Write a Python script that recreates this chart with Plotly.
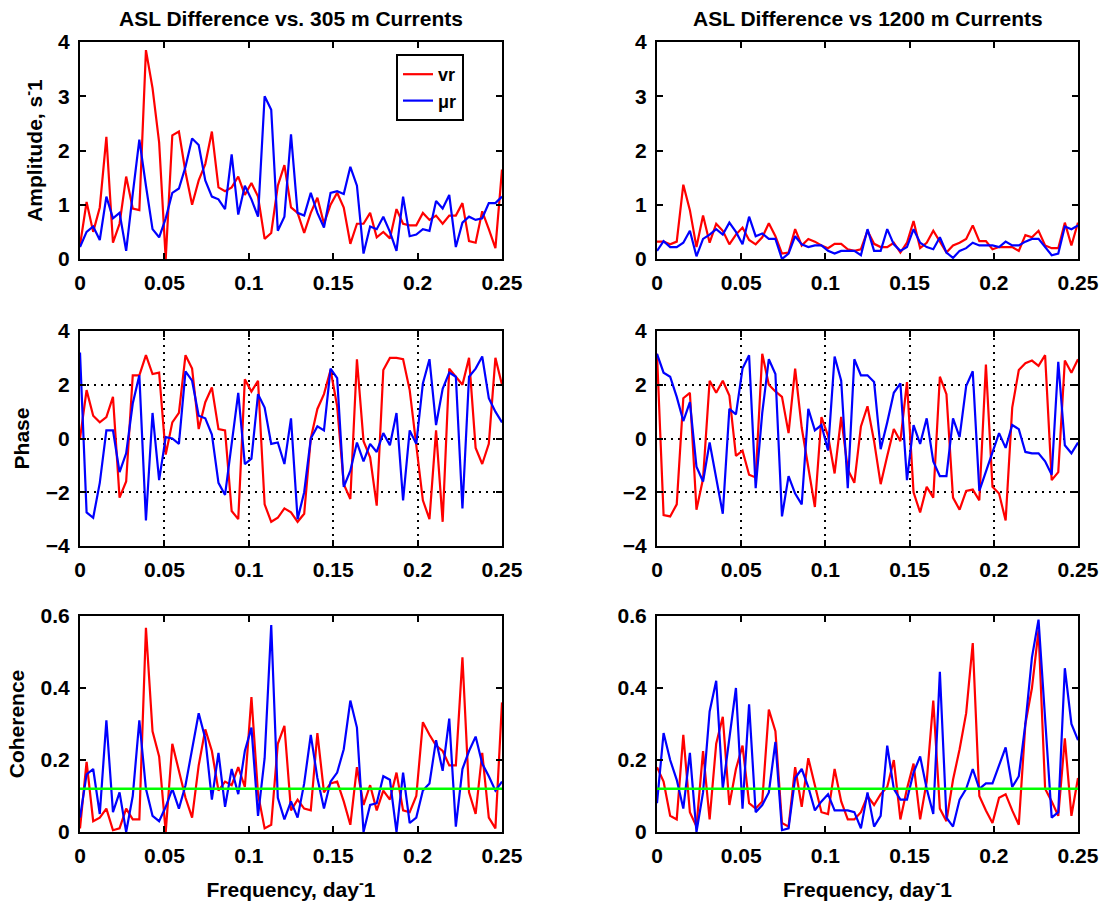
import numpy as np
import plotly.graph_objects as go

# ---------------- data ----------------
freq = np.arange(65) / 256.0  # day^-1

amp305_vr = [0.25,1.05,0.5,0.95,2.25,0.3,0.65,1.52,0.93,0.9,3.85,3.15,2.15,0.0,2.28,2.35,1.6,1.0,1.45,1.75,
             2.35,1.32,1.25,1.32,1.52,1.18,1.4,1.15,0.37,0.48,1.35,1.73,0.95,0.85,0.48,0.85,1.13,0.65,1.0,1.22,
             0.95,0.28,0.65,0.65,0.85,0.4,0.5,0.38,0.92,0.65,0.62,0.62,0.85,0.72,0.8,0.65,0.8,0.8,1.03,0.33,
             0.3,0.88,0.55,0.2,1.65]
amp305_ur = [0.22,0.5,0.6,0.35,1.15,0.75,0.85,0.15,1.2,2.2,1.35,0.55,0.4,0.75,1.22,1.3,1.7,2.22,2.1,1.45,
             1.15,1.1,0.92,1.93,0.82,1.35,1.1,0.78,3.0,2.75,0.52,0.78,2.3,0.85,0.8,1.22,0.85,0.58,1.22,1.25,
             1.2,1.7,1.35,0.1,0.6,0.55,0.78,0.5,0.15,1.15,0.42,0.45,0.55,0.52,1.07,0.93,1.18,0.22,0.67,0.78,
             0.72,0.75,1.03,1.03,1.15]
amp1200_vr = [0.32,0.32,0.27,0.32,1.37,0.9,0.22,0.8,0.3,0.65,0.52,0.27,0.45,0.58,0.35,0.27,0.4,0.66,0.42,0.1,
              0.12,0.55,0.25,0.37,0.32,0.25,0.2,0.28,0.28,0.18,0.15,0.18,0.52,0.28,0.22,0.22,0.3,0.12,0.3,0.7,
              0.2,0.3,0.52,0.32,0.12,0.25,0.3,0.37,0.62,0.33,0.33,0.18,0.22,0.22,0.22,0.15,0.44,0.4,0.52,0.25,
              0.2,0.2,0.67,0.25,0.67]
amp1200_ur = [0.15,0.33,0.22,0.22,0.3,0.52,0.05,0.37,0.45,0.55,0.45,0.67,0.5,0.27,0.78,0.42,0.47,0.37,0.37,0.0,
              0.1,0.42,0.27,0.22,0.25,0.25,0.15,0.1,0.15,0.15,0.15,0.07,0.55,0.15,0.15,0.55,0.27,0.15,0.22,0.55,
              0.3,0.22,0.18,0.4,0.12,0.02,0.15,0.2,0.3,0.25,0.25,0.25,0.22,0.32,0.25,0.25,0.32,0.37,0.37,0.22,
              0.07,0.1,0.6,0.55,0.62]

phase305_vr = [0,1.8,0.85,0.6,0.8,1.55,-2.2,-1.6,2.35,2.35,3.1,2.4,2.45,-0.6,0.6,0.95,3.1,2.6,0.35,1.35,
               1.9,0.35,0.3,-2.7,-3.0,2.2,1.75,2.15,-2.45,-3.1,-2.95,-2.6,-2.75,-3.1,-2.8,0.0,1.1,1.65,2.55,1.2,
               -1.7,-2.25,2.95,-0.1,-0.7,-2.5,2.55,3.0,3.0,2.95,1.8,-0.3,-2.3,-3.0,0.3,-3.1,2.6,2.3,2.0,3.0,
               -0.35,-0.95,-0.2,3.0,2.0]
phase305_ur = [3.2,-2.75,-2.95,-1.65,0.3,0.3,-1.25,-0.55,1.3,2.35,-3.05,0.95,-1.55,0.05,0.0,-0.2,2.5,2.15,0.85,0.75,
               0.15,-1.65,-2.1,-0.25,1.7,-0.95,-0.75,1.65,1.15,-0.2,-0.15,-0.95,0.75,-3.0,-2.0,0.0,0.45,0.3,2.6,2.25,
               -1.8,-1.2,-0.15,-0.85,-0.2,-0.5,0.2,-0.25,0.95,-2.3,0.3,-0.2,2.05,2.95,0.5,1.85,2.45,2.3,-2.6,2.3,
               2.6,3.05,1.5,1.0,0.6]
phase1200_vr = [3.15,-2.85,-2.9,-2.45,1.5,1.7,-2.65,-1.5,2.15,1.7,2.15,1.6,-0.65,-0.45,-1.35,-1.45,3.15,2.0,1.75,1.55,
                0.2,2.6,0.4,-1.0,-2.55,0.8,0.1,-1.3,0.8,-1.15,-1.65,0.45,1.2,-0.1,-1.7,-0.65,0.35,-0.1,2.1,-2.0,
                -2.75,-1.8,-2.2,2.3,1.65,-2.2,-2.65,-1.95,-1.9,-2.3,2.75,-1.8,-2.05,-3.05,1.15,2.55,2.8,2.9,2.7,3.1,
                -1.55,-1.25,2.9,2.45,2.95]
phase1200_ur = [3.15,2.45,2.3,1.55,0.65,1.35,-1.05,-1.6,-0.15,-1.5,-2.8,1.1,0.9,2.6,3.1,-1.85,0.95,2.95,2.4,-2.9,
                -1.4,-2.05,-2.45,1.1,0.3,0.5,-0.45,3.05,2.15,-1.85,2.95,2.35,2.35,2.1,-0.4,0.6,1.7,2.05,-1.55,0.5,
                -0.2,0.75,-0.85,-1.4,-1.4,0.75,0.05,1.95,2.5,-1.95,-1.25,-0.55,0.2,-0.35,0.5,0.35,-0.5,-0.55,-0.55,-0.85,
                -1.35,2.85,-0.25,-0.55,-0.15]

coh305_vr = [0.01,0.195,0.03,0.04,0.065,0.005,0.01,0.065,0.035,0.035,0.567,0.28,0.21,0.0,0.245,0.17,0.095,0.04,0.185,0.285,
             0.225,0.115,0.14,0.13,0.18,0.125,0.375,0.105,0.01,0.02,0.245,0.295,0.06,0.09,0.065,0.06,0.275,0.11,0.135,0.14,
             0.085,0.02,0.18,0.075,0.13,0.06,0.115,0.09,0.165,0.06,0.055,0.1,0.305,0.27,0.24,0.225,0.185,0.185,0.485,0.11,
             0.05,0.22,0.04,0.01,0.36]
coh305_ur = [0.04,0.16,0.175,0.05,0.31,0.055,0.11,0.0,0.1,0.31,0.12,0.045,0.03,0.07,0.12,0.065,0.13,0.225,0.33,0.26,
             0.09,0.22,0.07,0.175,0.105,0.225,0.29,0.045,0.205,0.575,0.095,0.035,0.085,0.04,0.135,0.27,0.15,0.065,0.14,0.165,
             0.23,0.365,0.29,0.0,0.075,0.08,0.155,0.145,0.0,0.165,0.025,0.04,0.115,0.135,0.255,0.17,0.315,0.015,0.175,0.225,
             0.265,0.19,0.155,0.115,0.14]
coh1200_vr = [0.18,0.14,0.045,0.035,0.27,0.055,0.015,0.225,0.035,0.245,0.32,0.075,0.175,0.24,0.08,0.065,0.085,0.34,0.28,0.025,
              0.015,0.18,0.07,0.205,0.13,0.055,0.05,0.175,0.085,0.035,0.035,0.055,0.1,0.075,0.105,0.125,0.2,0.035,0.12,0.19,
              0.035,0.14,0.365,0.065,0.03,0.145,0.23,0.33,0.525,0.1,0.06,0.025,0.095,0.105,0.06,0.02,0.3,0.4,0.56,0.12,
              0.085,0.045,0.26,0.045,0.15]
coh1200_ur = [0.08,0.275,0.2,0.145,0.065,0.22,0.0,0.11,0.335,0.42,0.12,0.26,0.4,0.065,0.355,0.055,0.075,0.11,0.25,0.005,
              0.01,0.15,0.175,0.125,0.06,0.085,0.105,0.06,0.06,0.06,0.055,0.01,0.11,0.015,0.045,0.24,0.12,0.09,0.09,0.165,
              0.21,0.12,0.05,0.445,0.04,0.015,0.09,0.12,0.175,0.12,0.135,0.135,0.185,0.235,0.125,0.155,0.3,0.485,0.59,0.3,
              0.04,0.055,0.455,0.3,0.255]

coh_sig = 0.12

x_ticks = [0, 0.05, 0.1, 0.15, 0.2, 0.25]
x_ticklabels = ["0", "0.05", "0.1", "0.15", "0.2", "0.25"]
amp_ticks = [0, 1, 2, 3, 4]
phase_ticks = [-4, -2, 0, 2, 4]
coh_ticks = [0, 0.2, 0.4, 0.6]
coh_ticklabels = ["0", "0.2", "0.4", "0.6"]

titles = ["ASL Difference vs. 305 m Currents", "ASL Difference vs 1200 m Currents"]

# ---------------- figure ----------------
W, H = 1105, 905
FONT = "Liberation Sans"
RED, BLUE, GREEN = "#ff0000", "#0000ff", "#00ff00"

def px_x(a, b):
    return [a / W, b / W]

def px_y(top, bottom):
    return [1 - bottom / H, 1 - top / H]

xdom = [px_x(80, 502), px_x(657, 1078)]
ydom = [px_y(42, 259), px_y(331, 546), px_y(616, 832)]

fig = go.Figure()

panels = [
    (0, 0, amp305_vr, amp305_ur, "amp"),
    (0, 1, amp1200_vr, amp1200_ur, "amp"),
    (1, 0, phase305_vr, phase305_ur, "phase"),
    (1, 1, phase1200_vr, phase1200_ur, "phase"),
    (2, 0, coh305_vr, coh305_ur, "coh"),
    (2, 1, coh1200_vr, coh1200_ur, "coh"),
]

TICKFONT = dict(family=FONT, size=21, color="black", weight="bold")
TITLEFONT = dict(family=FONT, size=21, color="black", weight="bold")

layout = {}
for i, (r, c, vr, ur, kind) in enumerate(panels):
    n = i + 1
    xa = "x" if n == 1 else f"x{n}"
    ya = "y" if n == 1 else f"y{n}"
    fig.add_trace(go.Scatter(x=freq, y=vr, mode="lines", line=dict(color=RED, width=2.2),
                             name="vr", showlegend=(n == 1), xaxis=xa, yaxis=ya))
    fig.add_trace(go.Scatter(x=freq, y=ur, mode="lines", line=dict(color=BLUE, width=2.2),
                             name="μr", showlegend=(n == 1), xaxis=xa, yaxis=ya))
    if kind == "coh":
        fig.add_trace(go.Scatter(x=[freq[0], freq[-1]], y=[coh_sig, coh_sig], mode="lines",
                                 line=dict(color=GREEN, width=2.5), showlegend=False,
                                 xaxis=xa, yaxis=ya))

    common = dict(showline=True, linecolor="black", linewidth=2, mirror="ticks",
                  ticks="inside", ticklen=6, tickwidth=2, tickcolor="black",
                  zeroline=False, automargin=False, tickfont=TICKFONT, ticklabelstandoff=4)
    grid = (kind == "phase")
    xkey = "xaxis" if n == 1 else f"xaxis{n}"
    ykey = "yaxis" if n == 1 else f"yaxis{n}"
    xd = dict(common, domain=xdom[c], anchor=ya, range=[0, 0.25],
              tickvals=x_ticks, ticktext=x_ticklabels,
              showgrid=grid, gridcolor="black", gridwidth=2, griddash="2px,5px")
    if r == 2:
        xd["title"] = dict(text="Frequency, day<sup>-</sup>1", standoff=16, font=TITLEFONT)
    if kind == "amp":
        yd = dict(range=[0, 4], tickvals=amp_ticks)
        ytitle = "Amplitude, s<sup>-</sup>1"
    elif kind == "phase":
        yd = dict(range=[-4, 4], tickvals=phase_ticks)
        ytitle = "Phase"
    else:
        yd = dict(range=[0, 0.6], tickvals=coh_ticks, ticktext=coh_ticklabels)
        ytitle = "Coherence"
    yd.update(common, domain=ydom[r], anchor=xa,
              showgrid=grid, gridcolor="black", gridwidth=2, griddash="2px,5px")
    if c == 0:
        yd["title"] = dict(text=ytitle, standoff=10, font=TITLEFONT)
    layout[xkey] = xd
    layout[ykey] = yd

fig.update_layout(**layout)

annotations = []
for c in range(2):
    annotations.append(dict(text=titles[c], xref="paper", yref="paper",
                            x=sum(xdom[c]) / 2, y=1 - 18 / H, xanchor="center", yanchor="middle",
                            showarrow=False, font=TITLEFONT))

fig.update_layout(
    width=W, height=H,
    margin=dict(l=0, r=0, t=0, b=0, autoexpand=False),
    paper_bgcolor="white", plot_bgcolor="white",
    font=dict(family=FONT, size=20, color="black", weight="bold"),
    annotations=annotations,
    legend=dict(x=396 / W, y=1 - 54 / H, xanchor="left", yanchor="top",
                bgcolor="white", bordercolor="black", borderwidth=2,
                font=dict(family=FONT, size=18, color="black", weight="bold"),
                tracegroupgap=0, itemwidth=30),
)

fig.write_html("out.html", config={"displayModeBar": False},
               post_script="document.body.style.margin='0';")
